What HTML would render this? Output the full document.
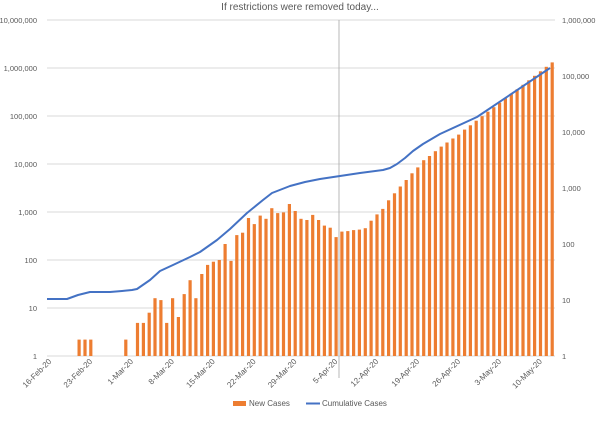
<!DOCTYPE html>
<html><head><meta charset="utf-8"><style>
body{margin:0;background:#fff;}
svg text{font-family:"Liberation Sans",sans-serif;fill:#595959;}
</style></head><body>
<svg id="c" width="600" height="416" xmlns="http://www.w3.org/2000/svg"></svg>
<script>
var s=document.getElementById('c'),h='';
h+='<text x="300" y="10" font-size="10" text-anchor="middle">If restrictions were removed today...</text>';
var L=['10,000,000','1,000,000','100,000','10,000','1,000','100','10','1'];
for(var i=0;i<8;i++){var y=20+48*i;
 h+='<line x1="47" x2="555" y1="'+y+'" y2="'+y+'" stroke="#d9d9d9" stroke-width="1"/>';
 h+='<text x="37" y="'+(y+3)+'" font-size="7.5" text-anchor="end">'+L[i]+'</text>';}
var R=['1,000,000','100,000','10,000','1,000','100','10','1'];
for(i=0;i<7;i++){h+='<text x="562" y="'+(20+56*i+3)+'" font-size="7.5">'+R[i]+'</text>';}
var v={5:2.2,6:2.2,7:2.2,13:2.2};
var a=[4.9,4.9,8,16,14.6,4.9,16,6.5,19.5,38,16,51,79,92,100,215,96,330,370,750,560,840,720,1200,950,980,1470,1050,720,680,870,680,520,470,300,390,400,420,430];
for(i=0;i<a.length;i++)v[15+i]=a[i];
var b=[460,660,890,1160,1750,2450,3400,4640,6400,8500,12000,14700,18500,23000,28000,34000,41000,52000,64000,80000];
for(i=0;i<b.length;i++)v[54+i]=b[i];
for(i=74;i<=86;i++)v[i]=v[i-1]*1.24;
var w=5.84;
for(var k in v){var cx=47+w*(+k+0.5),y=356-48*Math.log10(v[k]);
 h+='<rect x="'+(cx-1.6).toFixed(1)+'" y="'+y.toFixed(1)+'" width="3.2" height="'+(356-y).toFixed(1)+'" fill="#ED7D31"/>';}
h+='<line x1="339" x2="339" y1="20" y2="378" stroke="#a6a6a6" stroke-width="0.8"/>';
h+='<polyline fill="none" stroke="#4472C4" stroke-width="2" stroke-linejoin="round" points="47,299 67,299 78,295 90,292 110,292 122,291 132,290 137,289 150,280 160,271 173,265 190,257 200,252 217,240 230,229 247,213 263,200 272,193 290,186 305,182 320,179 340,176 360,173 383,170 390,168 397,164 405,158 413,151 423,144 440,134 477,117 550,68"/>';
var D=['16-Feb-20','23-Feb-20','1-Mar-20','8-Mar-20','15-Mar-20','22-Mar-20','29-Mar-20','5-Apr-20','12-Apr-20','19-Apr-20','26-Apr-20','3-May-20','10-May-20'];
for(i=0;i<D.length;i++){var x=47+w*(7*i+0.5)+2;
 h+='<text x="'+x+'" y="362" font-size="8" text-anchor="end" transform="rotate(-45 '+x+' 362)">'+D[i]+'</text>';}
h+='<rect x="233" y="401" width="13" height="5" fill="#ED7D31"/><text x="249" y="406" font-size="8">New Cases</text>';
h+='<line x1="306" x2="320" y1="403.5" y2="403.5" stroke="#4472C4" stroke-width="2"/><text x="322" y="406" font-size="8">Cumulative Cases</text>';
s.innerHTML=h;
</script>
</body></html>
